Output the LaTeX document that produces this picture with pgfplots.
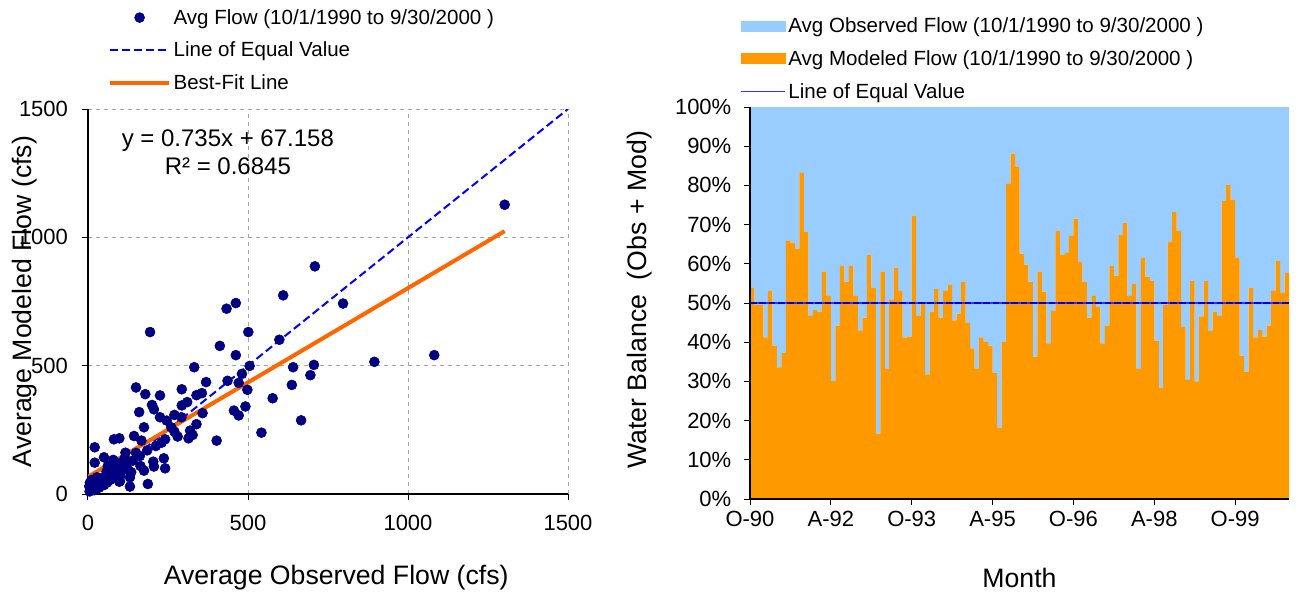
\documentclass[border=0pt]{standalone}
\usepackage{pgfplots}
\pgfplotsset{compat=1.18}
\usepackage{pgfplotstable}
\usepackage{fontspec}
\setmainfont{Liberation Sans}
\definecolor{navypt}{HTML}{000080}
\definecolor{eqblue}{HTML}{0000FF}
\definecolor{fitorange}{HTML}{FF6600}
\definecolor{obsblue}{HTML}{99CCFF}
\definecolor{modorange}{HTML}{FF9900}
\definecolor{legblue}{HTML}{3333FF}

% month index (bar centre) and modeled share of (obs + mod), Oct 1990 - Sep 2000
\pgfplotstableread{
x m
0.5 53.9
1.5 49.5
2.5 49.5
3.5 41.2
4.5 53.1
5.5 39.1
6.5 33.6
7.5 37.2
8.5 66.0
9.5 65.4
10.5 63.9
11.5 83.2
12.5 68.1
13.5 46.7
14.5 48.2
15.5 47.8
16.5 58.0
17.5 51.8
18.5 30.1
19.5 44.2
20.5 59.5
21.5 55.3
22.5 59.5
23.5 51.8
24.5 42.9
25.5 46.3
26.5 62.2
27.5 53.9
28.5 16.7
29.5 58.0
30.5 33.2
31.5 50.8
32.5 59.0
33.5 53.1
34.5 41.2
35.5 41.4
36.5 72.3
37.5 46.7
38.5 49.9
39.5 31.8
40.5 47.8
41.5 53.6
42.5 46.3
43.5 53.1
44.5 54.6
45.5 45.6
46.5 47.3
47.5 55.3
48.5 44.9
49.5 38.4
50.5 33.2
51.5 41.2
52.5 40.0
53.5 39.1
54.5 32.1
55.5 18.2
56.5 40.0
57.5 80.4
58.5 88.1
59.5 84.7
60.5 62.6
61.5 59.8
62.5 55.3
63.5 36.3
64.5 58.0
65.5 52.9
66.5 39.7
67.5 48.0
68.5 68.4
69.5 62.2
70.5 62.8
71.5 67.1
72.5 71.5
73.5 60.5
74.5 55.3
75.5 46.3
76.5 51.8
77.5 49.0
78.5 39.7
79.5 44.2
80.5 59.4
81.5 57.0
82.5 67.3
83.5 70.4
84.5 51.8
85.5 54.8
86.5 33.2
87.5 61.5
88.5 56.6
89.5 55.6
90.5 40.4
91.5 28.4
92.5 49.5
93.5 65.6
94.5 73.2
95.5 68.4
96.5 43.9
97.5 30.4
98.5 55.6
99.5 30.0
100.5 46.6
101.5 55.6
102.5 42.9
103.5 47.8
104.5 46.7
105.5 76.0
106.5 80.1
107.5 76.4
108.5 61.5
109.5 36.6
110.5 32.5
111.5 53.9
112.5 41.2
113.5 43.1
114.5 41.4
115.5 44.2
116.5 53.1
117.5 60.7
118.5 52.6
119.5 57.7
}\balance

\pgfplotsset{
  chartstyle/.style={
    scale only axis,
    axis x line=bottom, axis y line=left,
    axis line style={black, line width=0.9pt, -},
    tick align=outside,
    major tick length=4.5pt,
    tick style={black, line width=0.75pt},
    ticklabel style={font=\fontsize{16.5}{18}\selectfont},
    label style={font=\fontsize{20}{24}\selectfont},
    /pgf/number format/assume math mode=true,
    /pgf/number format/1000 sep={},
    legend style={draw=none, fill=none, font=\fontsize{15.4}{18}\selectfont,
      inner sep=0pt, row sep=8pt},
    legend cell align=left,
  }
}

\begin{document}
\begin{tikzpicture}
\useasboundingbox (-66pt,-75pt) rectangle (906pt,370.5pt);

\begin{axis}[chartstyle,
  at={(0pt,0pt)}, anchor=south west,
  width=360pt, height=288.75pt,
  xmin=0, xmax=1500, ymin=0, ymax=1500,
  xtick={0,500,1000,1500}, ytick={0,500,1000,1500},
  yticklabel shift=7pt, xticklabel shift=8pt,
  grid=major, grid style={gray!70, dashed, line width=0.6pt},
  xlabel={Average Observed Flow (cfs)},
  ylabel={Average Modeled Flow (cfs)},
  x label style={at={(axis description cs:0.517,-0.218)}, anchor=center},
  y label style={at={(axis description cs:-0.133,0.5)}, anchor=center, rotate=0},
  legend style={at={(0.0417,1.267)}, anchor=north west},
  legend image code/.code={\draw[mark repeat=2,mark phase=2,#1] plot coordinates {(0pt,0pt) (22pt,0pt) (44pt,0pt)};},
]
\addplot[only marks, mark=*, mark size=3.75pt, color=navypt] coordinates {
(1302,1127) (709,887) (610,774) (797,742) (433,722) (462,744) (194,631) (501,631)
(412,577) (598,601) (462,541) (1082,541) (895,515) (332,494) (505,499) (641,494)
(706,503) (481,468) (695,463) (369,436) (436,441) (471,433) (637,425) (150,415)
(293,408) (498,406) (179,389) (225,384) (339,385) (356,393) (577,373) (310,358)
(293,345) (200,347) (206,330) (160,319) (492,341) (456,325) (471,306) (358,315)
(225,299) (246,286) (270,308) (292,299) (339,272) (666,287) (175,260) (270,243)
(319,247) (327,230) (280,224) (314,217) (542,239) (402,208) (144,226) (167,208)
(81,213) (98,217) (241,213) (212,187) (21,182) (117,161) (50,143) (162,148)
(79,133) (21,122) (237,139) (204,126) (241,100) (206,107) (164,109) (175,91)
(110,107) (131,65) (131,29) (187,39) (98,48) (69,55) (48,57) (6,44)
(27,26) (17,16) (38,39) (84,74) (58,87) (100,68)
(10,20) (15,35) (25,30) (30,50) (35,25) (40,60) (45,45) (55,70) (60,45) (65,80)
(70,60) (75,95) (85,100) (90,85) (95,120) (105,90) (115,140) (120,115) (125,95)
(140,130) (8,40) (12,55) (20,15) (5,10) (50,35) (100,50) (135,85) (4,30) (28,65)
(62,110) (150,160) (185,170) (230,200) (260,260)
};
\addlegendentry{Avg Flow (10/1/1990 to 9/30/2000 )}
\addplot[eqblue, line width=1.5pt, dash pattern=on 6pt off 3pt] coordinates {(0,0) (1500,1500)};
\addlegendentry{Line of Equal Value}
\addplot[fitorange, line width=3pt] coordinates {(0,67.158) (1302,1024.1)};
\addlegendentry{Best-Fit Line}
\node[align=center, font=\fontsize{18}{21}\selectfont] at (axis cs:437,1333) {y = 0.735x + 67.158\\R² = 0.6845};
\end{axis}

% right: stacked monthly shares
\begin{axis}[chartstyle,
  at={(496.5pt,-3.75pt)}, anchor=south west,
  width=404.25pt, height=294pt,
  ybar stacked, bar width=1,
  xmin=0, xmax=120, ymin=0, ymax=100,
  xtick={0,18,36,54,72,90,108},
  xticklabels={O-90,A-92,O-93,A-95,O-96,A-98,O-99},
  ytick={0,10,...,100},
  yticklabel={\pgfmathprintnumber{\tick}\%},
  yticklabel shift=6pt, xticklabel shift=1pt,
  xlabel={Month},
  ylabel={Water Balance\ \ (Obs + Mod)},
  x label style={at={(axis description cs:0.5,-0.2015)}, anchor=center},
  y label style={at={(axis description cs:-0.204,0.508)}, anchor=center, rotate=0},
  axis on top,
]
\addplot[fill=modorange, draw=none] table[x=x, y=m] {\balance};
\addplot[fill=obsblue, draw=none] table[x=x, y expr=100-\thisrow{m}] {\balance};
\end{axis}

% right: line of equal value and legend, same frame
\begin{axis}[chartstyle,
  at={(496.5pt,-3.75pt)}, anchor=south west,
  width=404.25pt, height=294pt,
  xmin=0, xmax=120, ymin=0, ymax=100,
  hide axis,
  legend style={at={(-0.0186,1.236)}, anchor=north west},
]
\addlegendimage{legend image code/.code={\fill[obsblue] (0pt,-3.75pt) rectangle (33pt,3.75pt);}}
\addlegendentry{Avg Observed Flow (10/1/1990 to 9/30/2000 )}
\addlegendimage{legend image code/.code={\fill[modorange] (0pt,-3.75pt) rectangle (33pt,3.75pt);}}
\addlegendentry{Avg Modeled Flow (10/1/1990 to 9/30/2000 )}
\addlegendimage{legend image code/.code={\draw[draw=legblue, solid, line width=1.1pt] (0pt,0pt) -- (33pt,0pt);}}
\addlegendentry{Line of Equal Value}
\addplot[color=legblue, line width=2.2pt, forget plot] coordinates {(0,50) (120,50)};
\addplot[color=eqblue!85!black, line width=2.2pt, dash pattern=on 5pt off 2pt, forget plot] coordinates {(0,50) (120,50)};
\end{axis}
\end{tikzpicture}
\end{document}
